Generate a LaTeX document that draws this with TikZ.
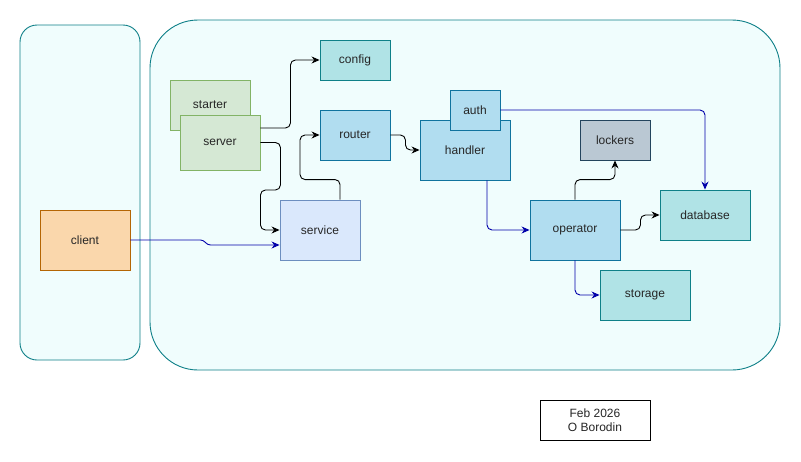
\documentclass[tikz,border=0pt]{standalone}
\usepackage{fontspec}
\setmainfont{Liberation Sans}
\usetikzlibrary{arrows.meta}
\definecolor{contfill}{HTML}{F0FDFD}
\definecolor{contline}{HTML}{0E8088}
\definecolor{greenfill}{HTML}{D5E8D4}
\definecolor{greenline}{HTML}{82B366}
\definecolor{tealfill}{HTML}{B0E3E6}
\definecolor{tealline}{HTML}{0E8088}
\definecolor{bluefill}{HTML}{B1DDF0}
\definecolor{blueline}{HTML}{10739E}
\definecolor{svcfill}{HTML}{DAE8FC}
\definecolor{svcline}{HTML}{6C8EBF}
\definecolor{grayfill}{HTML}{BAC8D3}
\definecolor{grayline}{HTML}{23445D}
\definecolor{orfill}{HTML}{FAD7AC}
\definecolor{orline}{HTML}{B46504}
\definecolor{edgeblue}{HTML}{0000AA}
\tikzset{
  box/.style={draw, line width=0.9pt, inner sep=0pt, font=\fontsize{12}{14}\selectfont, text=black!85},
  greenbox/.style={box, fill=greenfill, draw=greenline},
  tealbox/.style={box, fill=tealfill, draw=tealline},
  bluebox/.style={box, fill=bluefill, draw=blueline},
  svcbox/.style={box, fill=svcfill, draw=svcline},
  graybox/.style={box, fill=grayfill, draw=grayline},
  orbox/.style={box, fill=orfill, draw=orline},
  arr/.style={line width=0.9pt, rounded corners=5pt, -{Stealth[length=8pt,width=7pt]}},
  blk/.style={arr, draw=black},
  blu/.style={arr, draw=edgeblue},
}
\begin{document}
\begin{tikzpicture}[x=1pt,y=-1pt]
\useasboundingbox[fill=white] (0,0) rectangle (801,461);
% containers
\draw[fill=contfill, draw=contline, line width=0.9pt, rounded corners=17pt] (20,25) rectangle (140,360);
\draw[fill=contfill, draw=contline, line width=0.9pt, rounded corners=48pt] (150,20) rectangle (780,370);
% nodes
\node[greenbox, minimum width=80pt, minimum height=50pt] (starter) at (210,105) {starter};
\node[greenbox, minimum width=80pt, minimum height=55pt] (server) at (220,142.5) {server};
\node[tealbox, minimum width=70pt, minimum height=40pt] (config) at (355,60) {config};
\node[bluebox, minimum width=70pt, minimum height=50pt] (router) at (355,135) {router};
\node[svcbox, minimum width=80pt, minimum height=60pt] (service) at (320,230) {service};
\node[bluebox, minimum width=90pt, minimum height=60pt] (handler) at (465,150) {handler};
\node[bluebox, minimum width=50pt, minimum height=40pt] (auth) at (475,110) {auth};
\node[graybox, minimum width=70pt, minimum height=40pt] (lockers) at (615,140) {lockers};
\node[bluebox, minimum width=90pt, minimum height=60pt] (operator) at (575,230) {operator};
\node[tealbox, minimum width=90pt, minimum height=50pt] (database) at (705,215) {database};
\node[tealbox, minimum width=90pt, minimum height=50pt] (storage) at (645,295) {storage};
\node[orbox, minimum width=90pt, minimum height=60pt] (client) at (85,240) {client};
\node[draw=black, fill=white, line width=0.9pt, minimum width=110pt, minimum height=40pt, inner sep=0pt, align=center, font=\fontsize{12}{14}\selectfont, text=black!85] (legend) at (595,420) {Feb 2026\\O Borodin};
% edges
\draw[blk] ([yshift=14.5pt]server.east) -- ++(30,0) |- (config.west);
\draw[blk] (server.east) -- ++(20,0) -- ++(0,47.5) -- ++(-20,0) |- (service.west);
\draw[blk] ([xshift=20pt]service.north) -- ++(0,-20) -- ++(-40,0) |- (router.west);
\draw[blk] (router.east) -- ++(15,0) |- (handler.west);
\draw[blu] ([xshift=22pt]handler.south) |- (operator.west);
\draw[blu] (auth.east) -| (database.north);
\draw[blk] (operator.north) -- ++(0,-20) -| (lockers.south);
\draw[blk] (operator.east) -- ++(20,0) |- (database.west);
\draw[blu] (operator.south) |- (storage.west);
\draw[blu, rounded corners=3pt] (client.east) -- ++(73,0) -- ++(4,5) -- ([yshift=-15pt]service.west);
\end{tikzpicture}
\end{document}
